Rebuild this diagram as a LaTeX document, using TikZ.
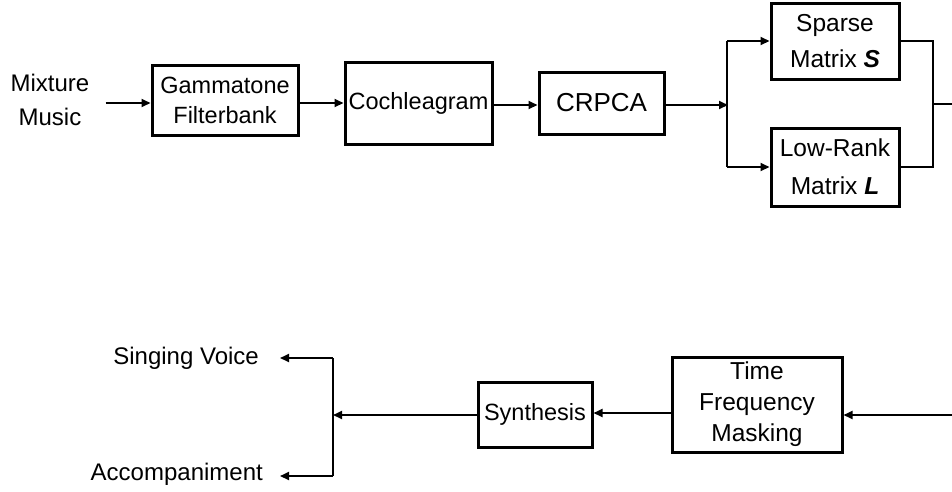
\documentclass[tikz,border=0pt]{standalone}
\usepackage{fontspec}
\setmainfont{Liberation Sans}
\usetikzlibrary{arrows.meta}
\begin{document}
\begin{tikzpicture}[x=1pt,y=-1pt,
  box/.style={draw,line width=3pt,rectangle,inner sep=0pt,align=center,font=\fontsize{23.5}{30}\selectfont},
  lbl/.style={inner sep=0pt,align=center,font=\fontsize{24}{34}\selectfont},
  conn/.style={line width=1.9pt},
  arr/.style={conn,-{Triangle[length=9pt,width=8pt]}}]
\useasboundingbox (0,0) rectangle (952,491);
% top row
\node[lbl] (mix) at (50,100) {Mixture\\Music};
\node[box,minimum width=146pt,minimum height=70pt] (gam) at (225,100) {Gammatone\\Filterbank};
\node[box,minimum width=147pt,minimum height=82pt] (coch) at (418.5,103) {Cochleagram};
\node[box,minimum width=125pt,minimum height=62pt,font=\fontsize{26}{30}\selectfont] (crpca) at (601.5,103) {CRPCA};
\node[box,minimum width=128pt,minimum height=76pt,font=\fontsize{24.5}{36}\selectfont] (sp) at (835,41) {Sparse\\Matrix \textbf{\textit{S}}};
\node[box,minimum width=128pt,minimum height=78pt,font=\fontsize{24.5}{38}\selectfont] (lr) at (835,167) {Low-Rank\\Matrix \textbf{\textit{L}}};
\coordinate (split) at (727,105);
\coordinate (merge) at (933,104);
\coordinate (outR) at (952,104);
\draw[arr,shorten <=16pt] (mix.east |- gam.west) ++(0,3) -- (gam.west |- 0,103);
\draw[arr] (gam.east |- 0,103) -- (coch.west |- 0,103);
\draw[arr] (coch.east |- 0,105) -- (crpca.west |- 0,105);
\draw[arr] (crpca.east |- split) -- ([xshift=1pt]split);
\draw[conn] (split |- sp.west) -- (split |- lr.west);
\draw[arr] (split |- sp.west) -- (sp.west);
\draw[arr] (split |- lr.west) -- (lr.west);
\draw[conn] (sp.east) -| (merge) |- (lr.east);
\draw[conn] (merge) -- (outR);
% bottom row
\node[box,minimum width=170pt,minimum height=95pt,font=\fontsize{24.5}{31}\selectfont] (tfm) at (757,404.5) {Time\\Frequency\\Masking};
\node[box,minimum width=114pt,minimum height=65pt] (syn) at (535,414.5) {Synthesis};
\coordinate (inR) at (952,415);
\coordinate (split2) at (333,415);
\draw[arr] (inR) -- (tfm.east |- inR);
\draw[arr] (tfm.west |- 0,413) -- (syn.east |- 0,413);
\draw[arr] (syn.west |- split2) -- (split2);
\node[lbl,anchor=east] (sv) at (259,358) {Singing Voice};
\node[lbl,anchor=east] (acc) at (263,474) {Accompaniment};
\coordinate (t2) at (333,358);
\coordinate (b2) at (333,476);
\draw[conn] (t2) -- (b2);
\draw[arr,shorten >=21pt] (t2) -- (sv.east |- t2);
\draw[arr,shorten >=17pt] (b2) -- (acc.east |- b2);
\end{tikzpicture}
\end{document}
